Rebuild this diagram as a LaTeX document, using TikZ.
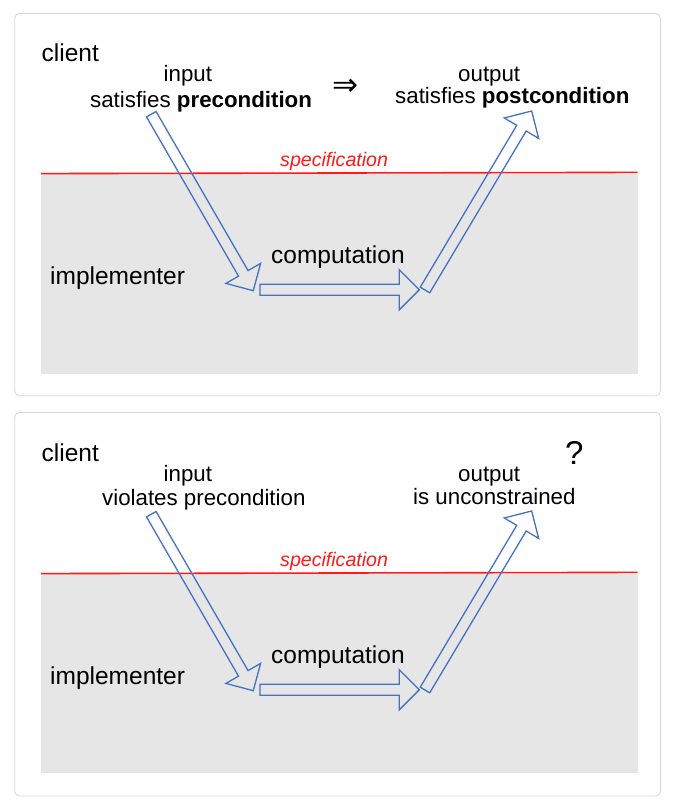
\documentclass[tikz,border=0pt]{standalone}
\usepackage{fontspec}
\setmainfont{Liberation Sans}
\newfontfamily\symfont{DejaVu Sans}
\definecolor{arrowblue}{HTML}{4472C4}
\definecolor{framegray}{HTML}{D9D9D9}
\definecolor{implgray}{HTML}{E6E6E6}
\definecolor{specred}{HTML}{FF1A1A}
\tikzset{
  hollowarrow/.style={draw=arrowblue, line width=1.3pt, line join=miter},
  panelframe/.style={draw=framegray, line width=0.9pt, rounded corners=5pt, fill=white},
  implarea/.style={fill=implgray, draw=none},
  specline/.style={draw=specred, line width=1.6pt},
  bigtxt/.style={inner sep=0pt, anchor=base west, font=\fontsize{24.5}{28}\selectfont},
  labtxt/.style={inner sep=0pt, anchor=base west, font=\fontsize{22.3}{26}\selectfont},
  spectxt/.style={inner sep=0pt, anchor=base west, text=specred, font=\fontsize{19.6}{23}\selectfont\itshape},
}
% hollow block arrow from (#1,#2) to (#3,#4), pixel coordinates (y down)
\newcommand\harrow[4]{%
  \pgfmathsetmacro\hang{atan2(-(#4-#2),#3-#1)}%
  \pgfmathsetmacro\hlen{veclen(#3-#1,#4-#2)}%
  \pgfmathsetmacro\hbase{\hlen-20}%
  \begin{scope}[shift={(#1,#2)}, rotate=\hang]
    \draw[hollowarrow] (0pt,-5.5pt) -- (\hbase pt,-5.5pt) -- (\hbase pt,-20pt)
      -- (\hlen pt,0pt) -- (\hbase pt,20pt) -- (\hbase pt,5.5pt) -- (0pt,5.5pt) -- cycle;
  \end{scope}}
\begin{document}
\begin{tikzpicture}[x=1pt,y=-1pt]
\useasboundingbox (0,0) rectangle (681,812);
\fill[white] (0,0) rectangle (681,812);
% ---------- panel 1 ----------
\draw[panelframe] (14.7,13.3) rectangle (660.5,395.7);
\fill[implarea] (41,174) rectangle (637.5,373.7);
\draw[specline] (41,173.6) -- (637.5,172.4);
\node[bigtxt] (client1) at (41.5,61.7) {client};
\node[labtxt] (in1) at (163.5,81.7) {input};
\node[labtxt] (pre1) at (90,107.3) {satisfies \textbf{precondition}};
\node[inner sep=0pt, font=\symfont\fontsize{31}{34}\selectfont] (impl) at (345,87) {⇒};
\node[labtxt] (out1) at (458,81.7) {output};
\node[labtxt] (post1) at (395,103.5) {satisfies \textbf{postcondition}};
\node[spectxt] (spec1) at (280,166.7) {specification};
\node[bigtxt] (comp1) at (271,263) {computation};
\node[bigtxt] (impl1) at (50,284.5) {implementer};
\harrow{151.3}{114.2}{253.3}{290.7}
\harrow{260}{289.8}{419.3}{289.8}
\harrow{425}{290}{531.7}{111}
% ---------- panel 2 ----------
\draw[panelframe] (14.7,412.3) rectangle (660.5,796);
\fill[implarea] (41,574) rectangle (637.5,772.7);
\draw[specline] (41,573.6) -- (637.5,572.4);
\node[bigtxt] (client2) at (41.5,461.7) {client};
\node[labtxt] (in2) at (163.5,481.7) {input};
\node[labtxt] (pre2) at (102,505.7) {violates precondition};
\node[labtxt] (out2) at (458,481.7) {output};
\node[labtxt] (uncon2) at (413,504) {is unconstrained};
\node[inner sep=0pt, anchor=base west, font=\fontsize{33}{36}\selectfont] (q2) at (565,464.3) {?};
\node[spectxt] (spec2) at (280,566.7) {specification};
\node[bigtxt] (comp2) at (271,663) {computation};
\node[bigtxt] (impl2) at (50,684.5) {implementer};
\harrow{151.3}{514.2}{253.3}{690.7}
\harrow{260}{689.8}{419.3}{689.8}
\harrow{425}{690}{531.7}{511}
\end{tikzpicture}
\end{document}
